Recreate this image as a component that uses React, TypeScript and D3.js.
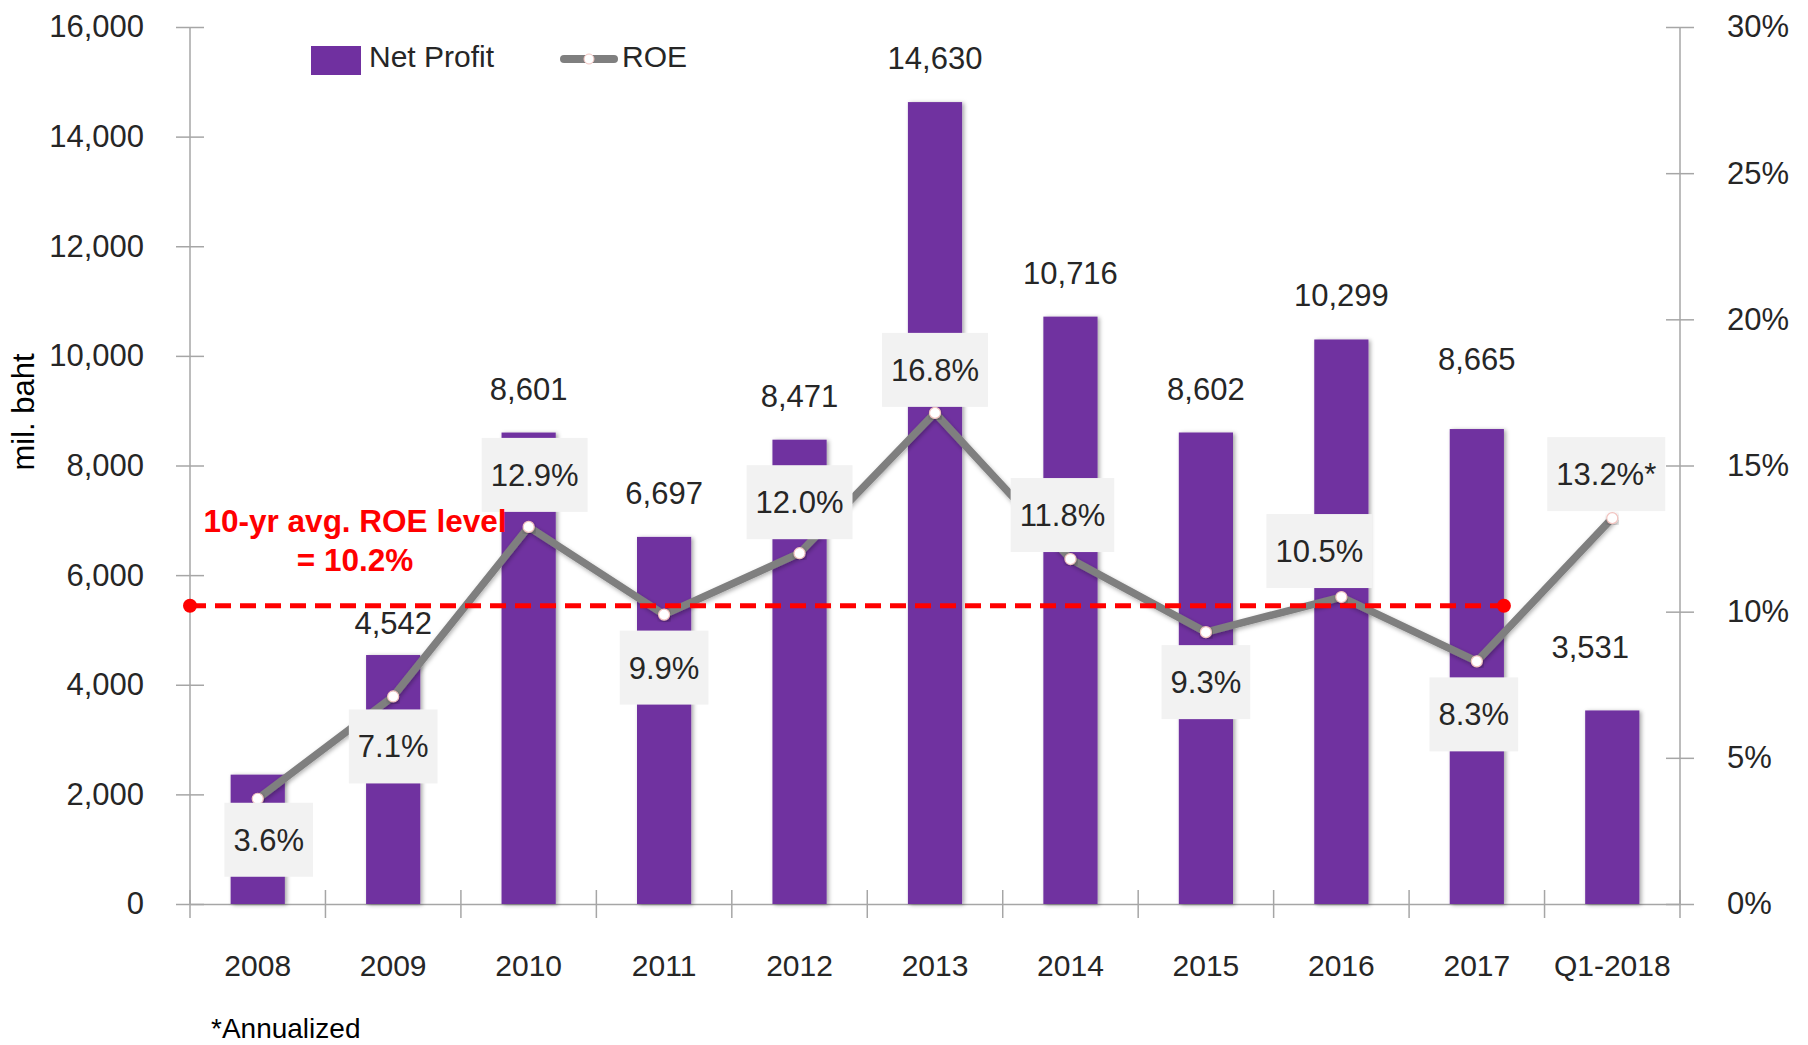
import { useEffect, useRef } from "react"
import * as d3 from "d3"

const categories = ["2008", "2009", "2010", "2011", "2012", "2013", "2014", "2015", "2016", "2017", "Q1-2018"]
const netProfit = [2360, 4542, 8601, 6697, 8471, 14630, 10716, 8602, 10299, 8665, 3531]
const showProfitLabel = [false, true, true, true, true, true, true, true, true, true, true]
const roe = [3.6, 7.1, 12.9, 9.9, 12.0, 16.8, 11.8, 9.3, 10.5, 8.3, 13.2]
const roeLabels = ["3.6%", "7.1%", "12.9%", "9.9%", "12.0%", "16.8%", "11.8%", "9.3%", "10.5%", "8.3%", "13.2%*"]
const roePlacement = ["below", "below", "above", "below", "above", "above", "above", "below", "above", "below", "above"]
const avgRoe = 10.2
const leftTicks = [0, 2000, 4000, 6000, 8000, 10000, 12000, 14000, 16000]
const rightTicks = [0, 5, 10, 15, 20, 25, 30]

const W = 1808
const H = 1045
const FONT = "'Liberation Sans', Arial, Helvetica, sans-serif"
const PURPLE = "#7030a0"
const GRAY_LINE = "#7f7f7f"
const AXIS = "#a6a6a6"
const TEXT = "#262626"

const App = () => {
  const svgRef = useRef<SVGSVGElement | null>(null)

  useEffect(() => {
    const svg = d3.select(svgRef.current)
    svg.selectAll("*").remove()

    const left = 190
    const right = 1680
    const top = 27
    const bottom = 904

    const x = d3.scaleBand().domain(categories).range([left, right]).padding(0)
    const yL = d3.scaleLinear().domain([0, 16000]).range([bottom, top])
    const yR = d3.scaleLinear().domain([0, 30]).range([bottom, top])
    const barW = x.bandwidth() * 0.4
    const cx = (c: string) => (x(c) || 0) + x.bandwidth() / 2

    const defs = svg.append("defs")
    const barShadow = defs.append("filter").attr("id", "barShadow")
      .attr("x", "-30%").attr("y", "-10%").attr("width", "160%").attr("height", "120%")
    barShadow.append("feDropShadow").attr("dx", 2).attr("dy", 1).attr("stdDeviation", 2)
      .attr("flood-color", "#000").attr("flood-opacity", 0.35)
    const lineShadow = defs.append("filter").attr("id", "lineShadow")
      .attr("x", "-10%").attr("y", "-10%").attr("width", "120%").attr("height", "120%")
    lineShadow.append("feDropShadow").attr("dx", 1).attr("dy", 2).attr("stdDeviation", 2)
      .attr("flood-color", "#000").attr("flood-opacity", 0.3)

    // left axis
    const gL = svg.append("g").attr("transform", `translate(${left},0)`)
      .call(d3.axisLeft(yL).tickValues(leftTicks).tickSize(14).tickPadding(32).tickFormat(d3.format(",")))
    gL.select(".domain").attr("stroke", AXIS).attr("stroke-width", 1.5).attr("d", `M0,${bottom}V${top}`)
    gL.selectAll(".tick line").attr("x1", 14).attr("x2", -14).attr("stroke", AXIS).attr("stroke-width", 1.5)
    gL.selectAll(".tick text").attr("font-family", FONT).attr("font-size", 31).attr("fill", TEXT)

    // right axis
    const gR = svg.append("g").attr("transform", `translate(${right},0)`)
      .call(d3.axisRight(yR).tickValues(rightTicks).tickSize(14).tickPadding(33).tickFormat((d) => `${d}%`))
    gR.select(".domain").attr("stroke", AXIS).attr("stroke-width", 1.5).attr("d", `M0,${bottom}V${top}`)
    gR.selectAll(".tick line").attr("x1", 14).attr("x2", -14).attr("stroke", AXIS).attr("stroke-width", 1.5)
    gR.selectAll(".tick text").attr("font-family", FONT).attr("font-size", 31).attr("fill", TEXT)

    // bottom axis
    const gB = svg.append("g").attr("transform", `translate(0,${bottom})`)
      .call(d3.axisBottom(x).tickSize(0).tickPadding(51))
    gB.select(".domain").attr("stroke", AXIS).attr("stroke-width", 1.5)
    gB.selectAll(".tick text").attr("font-family", FONT).attr("font-size", 30).attr("fill", TEXT)
    const bounds = categories.map((c) => x(c) || 0).concat([right])
    svg.append("g").selectAll("line").data(bounds).enter().append("line")
      .attr("x1", (d) => d).attr("x2", (d) => d)
      .attr("y1", bottom - 14).attr("y2", bottom + 14)
      .attr("stroke", AXIS).attr("stroke-width", 1.5)

    // bars
    svg.append("g").selectAll("rect").data(categories).enter().append("rect")
      .attr("x", (c) => cx(c) - barW / 2)
      .attr("y", (_, i) => yL(netProfit[i]))
      .attr("width", barW)
      .attr("height", (_, i) => bottom - yL(netProfit[i]))
      .attr("fill", PURPLE)
      .attr("filter", "url(#barShadow)")

    // bar value labels
    const profitNudge: Record<number, [number, number]> = { 1: [0, 12], 9: [0, -26], 10: [-22, -19] }
    svg.append("g").selectAll("text")
      .data(categories.map((c, i) => ({ c, i })).filter((d) => showProfitLabel[d.i]))
      .enter().append("text")
      .attr("x", (d) => cx(d.c) + (profitNudge[d.i]?.[0] || 0))
      .attr("y", (d) => yL(netProfit[d.i]) - 33 + (profitNudge[d.i]?.[1] || 0))
      .attr("text-anchor", "middle")
      .attr("font-family", FONT).attr("font-size", 31).attr("fill", TEXT)
      .text((d) => d3.format(",")(netProfit[d.i]))

    // ROE line
    const line = d3.line<number>().x((_, i) => cx(categories[i])).y((d) => yR(d))
    svg.append("path").datum(roe).attr("d", line)
      .attr("fill", "none").attr("stroke", GRAY_LINE).attr("stroke-width", 7.5)
      .attr("stroke-linejoin", "round").attr("filter", "url(#lineShadow)")
    svg.append("g").selectAll("circle").data(roe).enter().append("circle")
      .attr("cx", (_, i) => cx(categories[i])).attr("cy", (d) => yR(d)).attr("r", 5.5)
      .attr("fill", "#fff").attr("stroke", "#f2c4c0").attr("stroke-width", 1.2)
      .attr("filter", "url(#lineShadow)")

    // ROE label boxes
    const boxNudge: Record<number, [number, number]> = {
      0: [11, -9], 2: [6, -6], 3: [0, 3], 4: [0, -5], 5: [0, 3], 6: [-8, 2], 8: [-22, 0], 9: [-3, 3], 10: [-6, 2],
    }
    const gBox = svg.append("g")
    roe.forEach((v, i) => {
      const n = boxNudge[i] || [0, 0]
      const bx = cx(categories[i]) + n[0]
      const by = yR(v) + (roePlacement[i] === "below" ? 50 : -46) + n[1]
      const g = gBox.append("g")
      const rect = g.append("rect").attr("fill", "#f2f2f2")
      const t = g.append("text").attr("x", bx).attr("y", by + 11)
        .attr("text-anchor", "middle").attr("font-family", FONT).attr("font-size", 31).attr("fill", TEXT)
        .text(roeLabels[i])
      const tw = (t.node() as SVGTextElement).getComputedTextLength()
      rect.attr("x", bx - tw / 2 - 9).attr("y", by - 37).attr("width", tw + 18).attr("height", 74)
    })

    // average ROE reference line
    const yAvg = yR(avgRoe)
    const xEnd = cx("2017") + barW / 2
    svg.append("line").attr("x1", left).attr("x2", xEnd).attr("y1", yAvg).attr("y2", yAvg)
      .attr("stroke", "#ff0000").attr("stroke-width", 5).attr("stroke-dasharray", "16 9")
    svg.append("g").selectAll("circle").data([left, xEnd]).enter().append("circle")
      .attr("cx", (d) => d).attr("cy", yAvg).attr("r", 7).attr("fill", "#ff0000")
    const ann = svg.append("text").attr("text-anchor", "middle")
      .attr("font-family", FONT).attr("font-size", 31.5).attr("font-weight", "bold").attr("fill", "#ff0000")
    ann.append("tspan").attr("x", 355).attr("y", yAvg - 74).text("10-yr avg. ROE level")
    ann.append("tspan").attr("x", 355).attr("y", yAvg - 35).text(`= ${avgRoe.toFixed(1)}%`)

    // legend
    const lg = svg.append("g")
    lg.append("rect").attr("x", 311).attr("y", 46).attr("width", 50).attr("height", 29).attr("fill", PURPLE)
    lg.append("text").attr("x", 369).attr("y", 67).attr("font-family", FONT).attr("font-size", 30)
      .attr("fill", TEXT).text("Net Profit")
    lg.append("line").attr("x1", 564).attr("x2", 614).attr("y1", 59).attr("y2", 59)
      .attr("stroke", GRAY_LINE).attr("stroke-width", 8).attr("stroke-linecap", "round")
    lg.append("circle").attr("cx", 589).attr("cy", 59).attr("r", 5)
      .attr("fill", "#fff").attr("stroke", "#f2c4c0").attr("stroke-width", 1)
    lg.append("text").attr("x", 622).attr("y", 67).attr("font-family", FONT).attr("font-size", 30)
      .attr("fill", TEXT).text("ROE")

    // axis title and footnote
    svg.append("text").attr("transform", "translate(34,412) rotate(-90)")
      .attr("text-anchor", "middle").attr("font-family", FONT).attr("font-size", 31).attr("fill", "#000")
      .text("mil. baht")
    svg.append("text").attr("x", 211).attr("y", 1038)
      .attr("font-family", FONT).attr("font-size", 28).attr("fill", "#000")
      .text("*Annualized")
  }, [])

  return (
    <div style={{ position: "absolute", left: 0, top: 0, width: W, height: H, background: "#fff" }}>
      <svg ref={svgRef} width={W} height={H}></svg>
    </div>
  )
}

export default App
